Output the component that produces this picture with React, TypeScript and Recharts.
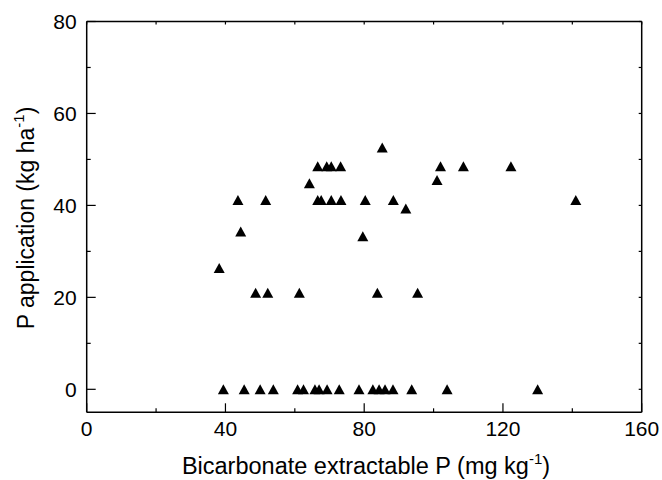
import React from 'react';
import { ScatterChart, Scatter, XAxis, YAxis } from 'recharts';

// Bicarbonate extractable P (mg kg-1)
const bicarbonateP = [
  39.4, 45.4, 50.0, 53.8, 60.8, 62.5, 65.8, 67.0, 69.3, 72.8, 78.5, 82.5, 84.3, 86.0, 88.3, 93.7, 103.9, 130.0,
  48.7, 52.2, 61.3, 83.8, 95.4,
  38.2,
  44.4,
  79.6,
  92.0,
  43.6, 51.6, 66.6, 67.6, 70.5, 73.3, 80.3, 88.4, 141.0,
  64.2,
  101.0,
  66.6, 69.2, 70.5, 73.2, 102.0, 108.6, 122.3,
  85.2,
];
// P application (kg ha-1)
const pApplication = [
  0, 0, 0, 0, 0, 0, 0, 0, 0, 0, 0, 0, 0, 0, 0, 0, 0, 0,
  21, 21, 21, 21, 21,
  26.4,
  34.3,
  33.3,
  39.3,
  41.2, 41.2, 41.2, 41.2, 41.2, 41.2, 41.2, 41.2, 41.2,
  44.8,
  45.5,
  48.5, 48.5, 48.5, 48.5, 48.5, 48.5, 48.5,
  52.6,
];

const xTicks = [0, 20, 40, 60, 80, 100, 120, 140, 160];
const xLabeled = [0, 40, 80, 120, 160];
const yTicks = [0, 10, 20, 30, 40, 50, 60, 70, 80];
const yLabeled = [0, 20, 40, 60, 80];

const points = bicarbonateP.map((x, i) => ({ x, y: pApplication[i] }));

const FONT = '"Liberation Sans", Arial, sans-serif';

const Triangle = (props: any) => {
  const { cx, cy } = props;
  const w = 11;
  const h = 10;
  return (
    <polygon
      points={`${cx},${cy - h / 2} ${cx - w / 2},${cy + h / 2} ${cx + w / 2},${cy + h / 2}`}
      fill="#000"
    />
  );
};

const NoShape = () => <g />;

const BottomTick = (props: any) => {
  const { x, y, payload } = props;
  const v = payload.value;
  const major = xLabeled.includes(v);
  return (
    <g>
      <line x1={x} y1={y} x2={x} y2={y - (major ? 9 : 4)} stroke="#000" strokeWidth={1.2} />
      {major && (
        <text x={x} y={y + 24} textAnchor="middle" fontSize={21} fontFamily={FONT} fill="#000">
          {v}
        </text>
      )}
    </g>
  );
};

const LeftTick = (props: any) => {
  const { x, y, payload } = props;
  const v = payload.value;
  const major = yLabeled.includes(v);
  return (
    <g>
      <line x1={x} y1={y} x2={x + (major ? 9 : 4)} y2={y} stroke="#000" strokeWidth={1.2} />
      {major && (
        <text x={x - 10} y={y + 7.5} textAnchor="end" fontSize={21} fontFamily={FONT} fill="#000">
          {v}
        </text>
      )}
    </g>
  );
};

const TopTick = (props: any) => {
  const { x, y } = props;
  return <line x1={x} y1={y} x2={x} y2={y + 3} stroke="#000" strokeWidth={1.2} />;
};

const RightTick = (props: any) => {
  const { x, y } = props;
  return <line x1={x} y1={y} x2={x - 3} y2={y} stroke="#000" strokeWidth={1.2} />;
};

const XTitle = () => (
  <text x={366} y={474} textAnchor="middle" fontSize={23.5} fontFamily={FONT} fill="#000">
    Bicarbonate extractable P (mg kg
    <tspan fontSize={15} dy={-10}>-1</tspan>
    <tspan dy={10}>)</tspan>
  </text>
);

const YTitle = () => (
  <text
    x={34}
    y={218}
    transform="rotate(-90 34 218)"
    textAnchor="middle"
    fontSize={23}
    fontFamily={FONT}
    fill="#000"
  >
    P application (kg ha
    <tspan fontSize={15} dy={-10}>-1</tspan>
    <tspan dy={10}>)</tspan>
  </text>
);

const axisLine = { stroke: '#000', strokeWidth: 1.5 };

export default function App() {
  return (
    <div style={{ position: 'absolute', left: 0, top: 0, width: 662, height: 480, background: '#fff' }}>
      <ScatterChart width={662} height={480} margin={{ top: 20.5, right: 19.3, bottom: 0, left: 0 }}>
        <XAxis
          xAxisId={0}
          dataKey="x"
          type="number"
          domain={[0, 160]}
          ticks={xTicks}
          interval={0}
          allowDataOverflow
          height={67.7}
          tickSize={0}
          tickMargin={0}
          tickLine={false}
          axisLine={axisLine}
          tick={<BottomTick />}
          label={<XTitle />}
        />
        <XAxis
          xAxisId="top"
          dataKey="x"
          orientation="top"
          type="number"
          domain={[0, 160]}
          ticks={xTicks}
          interval={0}
          allowDataOverflow
          height={1}
          tickSize={0}
          tickMargin={0}
          tickLine={false}
          axisLine={axisLine}
          tick={<TopTick />}
        />
        <YAxis
          yAxisId={0}
          dataKey="y"
          type="number"
          domain={[-5, 80]}
          ticks={yTicks}
          interval={0}
          allowDataOverflow
          width={86.7}
          tickSize={0}
          tickMargin={0}
          tickLine={false}
          axisLine={axisLine}
          tick={<LeftTick />}
          label={<YTitle />}
        />
        <YAxis
          yAxisId="right"
          dataKey="y"
          orientation="right"
          type="number"
          domain={[-5, 80]}
          ticks={yTicks}
          interval={0}
          allowDataOverflow
          width={1}
          tickSize={0}
          tickMargin={0}
          tickLine={false}
          axisLine={axisLine}
          tick={<RightTick />}
        />
        <Scatter
          data={points}
          xAxisId="top"
          yAxisId="right"
          shape={<NoShape />}
          isAnimationActive={false}
        />
        <Scatter data={points} fill="#000" shape={<Triangle />} isAnimationActive={false} />
      </ScatterChart>
    </div>
  );
}
